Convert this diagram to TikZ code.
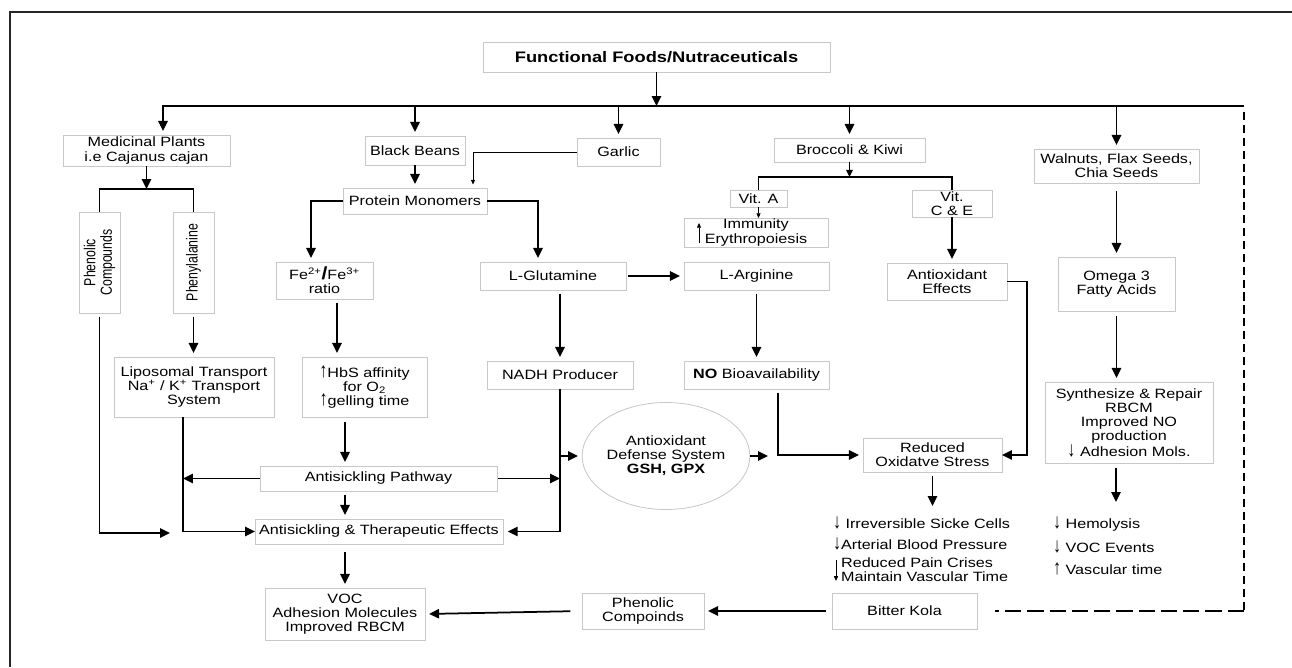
\documentclass[tikz,border=0pt]{standalone}
\usepackage{fontspec}
\setmainfont{Liberation Sans}[FakeStretch=1.2]
\newfontfamily\rotfont{Liberation Sans}
\usetikzlibrary{arrows.meta,shapes.geometric,calc}
\definecolor{boxgray}{RGB}{200,200,200}
\newcommand\myDn{\scalebox{1}[1.55]{↓}}
\newcommand\myUp{\scalebox{1}[1.55]{↑}}
\begin{document}
\begin{tikzpicture}[x=0.03cm,y=-0.03cm,
  every node/.style={font=\fontsize{11.5}{12}\selectfont, inner sep=0pt, outer sep=0pt},
  bx/.style 2 args={draw=boxgray, line width=0.7pt, fill=white, align=center, minimum width=#1*0.03cm, minimum height=#2*0.03cm},
  ln/.style={line width=1.5pt},
  arr/.style={ln, -{Triangle[length=8.5pt,width=8pt]}},
  arrg/.style={arr, shorten >=3.5pt},
  tarr/.style={line width=0.6pt, -{Triangle[length=4pt,width=3.5pt]}},
  marr/.style={line width=1pt, -{Triangle[length=6pt,width=5.5pt]}},
  dshv/.style={line width=1.5pt, dash pattern=on 7pt off 4pt},
  dshh/.style={line width=1.5pt, dash pattern=on 14pt off 5pt},
  rot/.style={rotate=90, font=\rotfont\fontsize{10.5}{11}\selectfont}]
\useasboundingbox (0,0) rectangle (1292,667);
\draw[line width=1pt, black!85] (10,667) -- (10,12) -- (1292,12);

% nodes
\node[bx={347}{30}, font=\fontsize{13}{14}\selectfont\bfseries] (ff) at (656.5,57) {Functional Foods/Nutraceuticals};
\node[bx={167}{31}] (med) at (146.5,150.5) {Medicinal Plants\\i.e Cajanus cajan};
\node[bx={100}{29}] (bb) at (415,150.5) {Black Beans};
\node[bx={83}{28}] (gar) at (618.5,152) {Garlic};
\node[bx={151}{24}] (brk) at (849.5,150) {Broccoli \& Kiwi};
\node[bx={165}{34}] (wal) at (1116.5,166) {Walnuts, Flax Seeds,\\Chia Seeds};
\node[bx={144}{26}] (pm) at (415,201) {Protein Monomers};
\node[bx={57}{17}] (vita) at (758.5,198.5) {Vit. A};
\node[bx={80}{27}] (vitce) at (952,203.5) {Vit.\\C \& E};
\node[bx={144}{29}] (imm) at (756,232.5) {Immunity\\Erythropoiesis};
\node[bx={120}{37}] (ant) at (947,281.5) {Antioxidant\\Effects};
\node[bx={117}{54}] (omg) at (1116.5,284) {Omega 3\\Fatty Acids};
\node[bx={41}{101}] (phc) at (99.5,262.5) {};
\node[rot] (phct) at (phc) {\scalebox{1}[1.3]{\shortstack{Phenolic\\Compounds}}};
\node[bx={41}{101}] (phe) at (193.5,262.5) {};
\node[rot] (phet) at (phe) {\scalebox{1}[1.3]{Phenylalanine}};
\node[bx={97}{37}] (fe) at (324.5,280.5) {Fe\textsuperscript{2+}{\fontsize{15}{12}\selectfont\bfseries /}Fe\textsuperscript{3+}\\ratio};
\node[bx={146}{28}] (glu) at (553,276) {L-Glutamine};
\node[bx={145}{28}] (arg) at (756.5,276) {L-Arginine};
\node[bx={160}{60}] (lip) at (194,387) {Liposomal Transport\\Na\textsuperscript{+} / K\textsuperscript{+} Transport\\System};
\node[bx={125}{60}] (hbs) at (364.5,387) {\myUp HbS affinity\\for O\textsubscript{2}\\\myUp gelling time};
\node[bx={146}{28}] (nadh) at (560,375) {NADH Producer};
\node[bx={145}{28}] (nob) at (756.5,375) {\textbf{NO} Bioavailability};
\node[bx={168}{81}] (syn) at (1129,422.5) {Synthesize \& Repair\\RBCM\\Improved NO\\production\\\myDn\ Adhesion Mols.};
\node[ellipse, draw=boxgray, line width=0.7pt, fill=white, align=center, minimum width=4.26cm, minimum height=3.21cm] (ell) at (666,456) {Antioxidant\\Defense System\\\textbf{GSH, GPX}};
\node[bx={139}{34}] (red) at (932.5,455) {Reduced\\Oxidatve Stress};
\node[bx={237}{25}] (path) at (378.5,478.5) {Antisickling Pathway};
\node[bx={248}{25}] (ther) at (379,531.5) {Antisickling \& Therapeutic Effects};
\node[bx={160}{52}] (voc) at (345,614) {VOC\\Adhesion Molecules\\Improved RBCM};
\node[bx={122}{36}] (phc2) at (643,611) {Phenolic\\Compoinds};
\node[bx={145}{36}] (bk) at (904.5,611) {Bitter Kola};
\node[align=left, anchor=north west] (lst1) at (833,517) {\myDn\ Irreversible Sicke Cells\\[6pt]\myDn Arterial Blood Pressure\\[3pt]\phantom{↓}Reduced Pain Crises\\\phantom{↓}Maintain Vascular Time};
\node[align=left, anchor=north west] (lst2) at (1053,517) {\myDn\ Hemolysis\\[6.8pt]\myDn\ VOC Events\\[6.8pt]\myUp\ Vascular time};

% in-text tall arrows
\draw[tarr] ([xshift=0.45cm,yshift=0.12cm]imm.south west) -- ([xshift=0.45cm,yshift=0.72cm]imm.south west);
\draw[tarr] ([xshift=0.09cm,yshift=0.66cm]lst1.south west) -- ([xshift=0.09cm,yshift=0.03cm]lst1.south west);

% top distribution
\coordinate (busL) at (163,106);
\coordinate (busR) at (1244,106);
\draw[arr] (ff.south) -- (ff.south |- busL);
\draw[arrg] (busR) -- (busL) -- (busL |- med.north);
\draw[arrg] (bb.north |- busL) -- (bb.north);
\draw[arrg] (gar.north |- busL) -- (gar.north);
\draw[arrg] (brk.north |- busL) -- (brk.north);
\draw[arrg] (wal.north |- busL) -- (wal.north);
\coordinate (dc) at (busR |- bk.east);
\draw[dshv] ([yshift=-0.18cm]busR) -- (dc);
\draw[dshh, shorten >=0.54cm] (dc) -- (bk.east);

% garlic / black beans
\draw[tarr, shorten >=3pt] (gar.west) -| ([xshift=1.74cm]pm.north);
\draw[arrg] (bb.south) -- (pm.north);
\draw[arrg] (pm.west) -| ([xshift=-0.405cm]fe.north);
\draw[arrg] (pm.east) -| ([xshift=-0.45cm]glu.north);

% broccoli
\coordinate (vj) at (849.5,177);
\draw[marr] (brk.south) -- (vj);
\draw[ln] (vita.north) -- (vita.north |- vj) -- (vitce.north |- vj) -- (vitce.north);
\draw[tarr] (vita.south) -- (vita.south |- imm.north);
\draw[arrg] (vitce.south) -- (vitce.south |- ant.north);

% walnuts
\draw[arrg, shorten <=7pt] (wal.south) -- (wal.south |- omg.north);
\draw[arrg, shorten <=4pt] (omg.south) -- (omg.south |- syn.north);
\draw[arr, shorten <=4pt, shorten >=0.45cm] ([xshift=-0.39cm]syn.south) -- ([xshift=-0.39cm]syn.south |- lst2.north);

% medicinal plants
\coordinate (mj) at (146.5,189);
\draw[arr] (med.south) -- (mj);
\draw[ln] (phc.north) -- (phc.north |- mj) -- (phe.north |- mj) -- (phe.north);
\coordinate (phend) at (170,533);
\draw[arr, shorten <=3pt] (phc.south) |- (phend);
\draw[arrg, shorten <=3pt] (phe.south) -- (phe.south |- lip.north);
\coordinate (lipd) at ([xshift=-0.33cm]lip.south);
\draw[arr] (lipd) |- (ther.west);
\draw[arr] (path.west) -- (path.west -| lipd);

% beans chain
\draw[arrg, shorten <=3pt] ([xshift=0.375cm]fe.south) -- ([xshift=0.375cm]fe.south |- hbs.north);
\draw[arrg, shorten <=4pt] ([xshift=-0.585cm]hbs.south) -- ([xshift=-0.585cm]hbs.south |- path.north);
\draw[arrg, shorten <=3pt] ([xshift=-1.005cm]path.south) -- ([xshift=-1.005cm]path.south |- ther.north);
\draw[arrg, shorten <=7pt] (voc.north |- ther.south) -- (voc.north);
\draw[arrg, shorten <=3pt] (nadh.north |- glu.south) -- (nadh.north);
\draw[arrg, shorten <=2pt] (glu.east) -- (arg.west);
\draw[arrg, shorten <=3pt] (arg.south) -- (nob.north);
\draw[arr, shorten >=4pt] (nadh.south) |- (ther.east);
\draw[arr, shorten <=1pt] (path.east) -- (path.east -| nadh.south);
\draw[arrg] (nadh.south |- ell.west) -- (ell.west);
\coordinate (nobd) at ([xshift=0.645cm]nob.south);
\draw[arr, shorten >=0.3cm] (ell.east) -- (ell.east -| nobd);
\draw[arrg, shorten <=3pt] (nobd) |- (red.west);
\draw[arr] (ant.east) -- ++(20,0) |- (red.east);
\draw[arr, shorten <=3pt, shorten >=0.33cm] (red.south) -- (red.south |- lst1.north);

% bottom
\draw[arrg, shorten <=5pt] (bk.west) -- (phc2.east);
\draw[arrg, shorten <=10pt] (phc2.west) -- (voc.east);
\end{tikzpicture}
\end{document}
